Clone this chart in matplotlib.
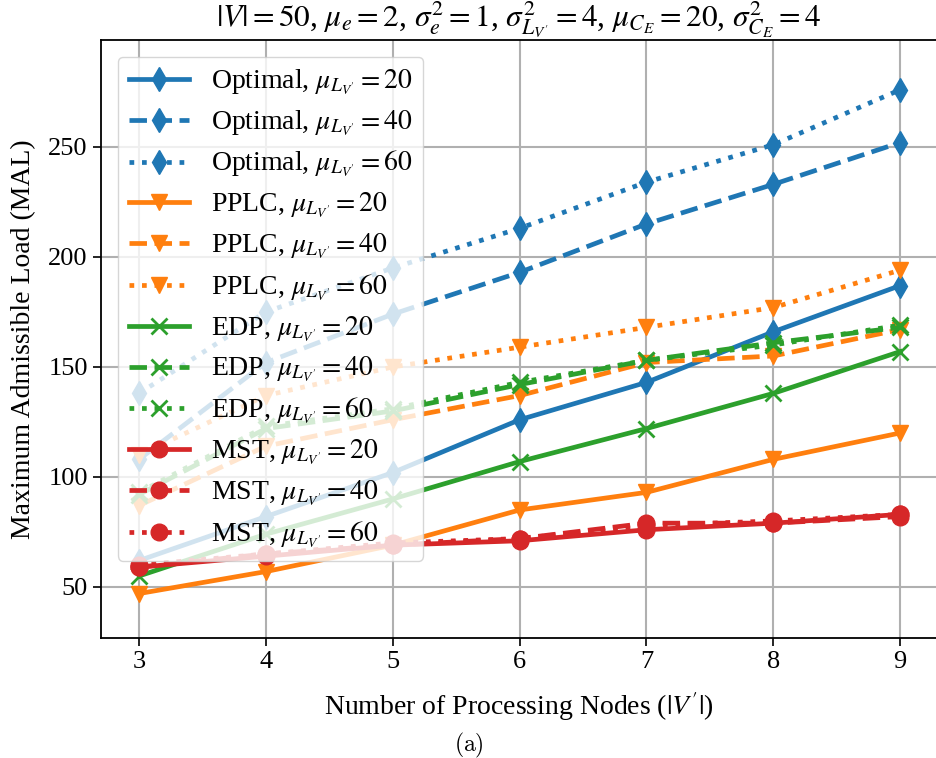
import matplotlib
matplotlib.use('Agg')
import matplotlib.pyplot as plt

plt.rcParams['font.family'] = ['Liberation Serif', 'DejaVu Serif']
plt.rcParams['mathtext.fontset'] = 'stix'

# data
nodes = [3, 4, 5, 6, 7, 8, 9]

opt_20 = [62, 82, 102, 126, 143, 166, 187]
opt_40 = [108, 152, 174, 193, 215, 233, 252]
opt_60 = [138, 175, 195, 213, 234, 251, 276]

pplc_20 = [47, 57, 69, 85, 93, 108, 120]
pplc_40 = [87, 114, 126, 137, 152, 155, 167]
pplc_60 = [110, 137, 150, 159, 168, 177, 194]

edp_20 = [55, 74, 90, 107, 122, 138, 157]
edp_40 = [92, 122, 130, 142, 153, 161, 168]
edp_60 = [93, 123, 131, 143, 153, 160, 169]

mst_20 = [59, 64, 69, 71, 76, 79, 83]
mst_40 = [59, 65, 69, 72, 79, 79, 82]
mst_60 = [60, 65, 70, 72, 78, 80, 83]

mu_vals = [20, 40, 60]
styles = ['-', '--', ':']

series = [
    ('Optimal', 'C0', 'd', [opt_20, opt_40, opt_60]),
    ('PPLC', 'C1', 'v', [pplc_20, pplc_40, pplc_60]),
    ('EDP', 'C2', 'x', [edp_20, edp_40, edp_60]),
    ('MST', 'C3', 'o', [mst_20, mst_40, mst_60]),
]

fig = plt.figure(figsize=(9.37, 7.58), dpi=100)
ax = fig.add_axes([0.1078, 0.1583, 0.8922, 0.7889])

for name, col, mk, ys in series:
    for mu, ls, y in zip(mu_vals, styles, ys):
        ms = 12 if mk != 'x' else 11
        ax.plot(nodes, y, color=col, linestyle=ls, marker=mk, linewidth=3.4,
                markersize=ms, markeredgewidth=2 if mk == 'x' else 1,
                label=name + r', $\mu_{L_{V^{\prime}}} = %d$' % mu)

ax.set_xlim(2.7, 9.29)
ax.set_ylim(26.8, 298.6)
ax.set_xticks(nodes)
ax.set_yticks([50, 100, 150, 200, 250])
ax.grid(True, color='#b0b0b0', linewidth=1.5)
ax.tick_params(labelsize=19, length=6, width=1.2)
for s in ax.spines.values():
    s.set_linewidth(1.3)

ax.set_xlabel(r"Number of Processing Nodes ($|V^{\prime}|$)", fontsize=20, labelpad=12)
ax.set_ylabel("Maximum Admissible Load (MAL)", fontsize=20, labelpad=9)
ax.set_title(r"$|V| = 50$, $\mu_e = 2$, $\sigma_e^2 = 1$, $\sigma_{L_{V^{\prime}}}^2 = 4$, "
             r"$\mu_{C_E} = 20$, $\sigma_{C_E}^2 = 4$", fontsize=22.5, pad=1)
ax.legend(loc='upper left', fontsize=20, handlelength=2.15, labelspacing=0.42,
          borderaxespad=0.6)

fig.text(0.5, 0.017, r"$\mathrm{(a)}$", ha='center', va='center', fontsize=17,
         math_fontfamily='cm')

fig.savefig('out.png', dpi=100)
